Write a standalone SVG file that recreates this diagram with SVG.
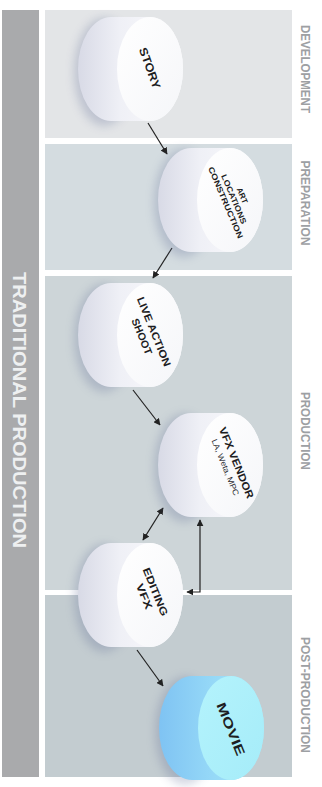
<svg xmlns="http://www.w3.org/2000/svg" width="322" height="787" viewBox="0 0 322 787">
<style>
.band{stroke:none}
.lbl{font-family:"Liberation Sans",Arial,sans-serif;font-weight:bold;font-size:13px;fill:#9da0a3;text-anchor:middle}
.title{font-family:"Liberation Sans",Arial,sans-serif;font-weight:bold;font-size:19px;fill:#eef0f1;text-anchor:middle}
.nt{font-family:"Liberation Sans",Arial,sans-serif;font-weight:bold;fill:#1d1d22;text-anchor:middle}
.sub{font-family:"Liberation Sans",Arial,sans-serif;font-weight:normal;fill:#2a2a30;text-anchor:middle}
.conn{fill:none;stroke:#222;stroke-width:1.2}
</style>
<defs>
<linearGradient id="bodyG" x1="0" y1="0" x2="1" y2="0">
<stop offset="0" stop-color="#d8dae6"/>
<stop offset="0.4" stop-color="#eff0f6"/>
<stop offset="1" stop-color="#fbfbfd"/>
</linearGradient>
<linearGradient id="faceG" x1="0" y1="0" x2="1" y2="1">
<stop offset="0" stop-color="#ffffff"/>
<stop offset="1" stop-color="#f5f6f9"/>
</linearGradient>
<linearGradient id="mBodyG" x1="0" y1="0" x2="1" y2="0">
<stop offset="0" stop-color="#7fc3f3"/>
<stop offset="0.5" stop-color="#95d8f7"/>
<stop offset="1" stop-color="#a8e8f9"/>
</linearGradient>
<linearGradient id="mFaceG" x1="0" y1="0" x2="1" y2="1">
<stop offset="0" stop-color="#b4f3fc"/>
<stop offset="1" stop-color="#a5ecf9"/>
</linearGradient>
<filter id="blur" x="-50%" y="-50%" width="200%" height="200%">
<feGaussianBlur stdDeviation="5"/>
</filter>
<g id="cyl">
<ellipse cx="-46" cy="3" rx="30" ry="54" fill="#56638f" opacity="0.26" filter="url(#blur)"/>
<path d="M-39,-52 H0 A33,52 0 0 1 0,52 H-39 A33,52 0 0 1 -39,-52 Z" fill="url(#bodyG)"/>
<ellipse cx="0" cy="0" rx="33" ry="52" fill="url(#faceG)"/>
</g>
<g id="mcyl">
<ellipse cx="-46" cy="3" rx="30" ry="54" fill="#56638f" opacity="0.26" filter="url(#blur)"/>
<path d="M-39,-52 H0 A33,52 0 0 1 0,52 H-39 A33,52 0 0 1 -39,-52 Z" fill="url(#mBodyG)"/>
<ellipse cx="0" cy="0" rx="33" ry="52" fill="url(#mFaceG)"/>
</g>
<marker id="ah" viewBox="0 0 10 10" refX="9" refY="5" markerWidth="7" markerHeight="7" markerUnits="userSpaceOnUse" orient="auto-start-reverse">
<path d="M0,0 L10,5 L0,10 Z" fill="#222"/>
</marker>
</defs>

<rect width="322" height="787" fill="#ffffff"/>

<g id="bands">
<rect class="band" x="2" y="10" width="37" height="767" fill="#a9aaac"/>
<rect class="band" x="45" y="10" width="247" height="128" fill="#e3e5e7"/>
<rect class="band" x="45" y="144" width="247" height="126" fill="#d4dce0"/>
<rect class="band" x="45" y="276" width="247" height="314" fill="#cdd5d8"/>
<rect class="band" x="45" y="595" width="247" height="182" fill="#c3ccd0"/>
</g>

<g id="labels">
<text class="title" transform="translate(20,410) rotate(90)" dy="0.36em" textLength="276" lengthAdjust="spacingAndGlyphs">TRADITIONAL PRODUCTION</text>
<text class="lbl" transform="translate(306,69) rotate(90)" dy="0.36em" textLength="88" lengthAdjust="spacingAndGlyphs">DEVELOPMENT</text>
<text class="lbl" transform="translate(306,203) rotate(90)" dy="0.36em" textLength="85" lengthAdjust="spacingAndGlyphs">PREPARATION</text>
<text class="lbl" transform="translate(306,431) rotate(90)" dy="0.36em" textLength="78" lengthAdjust="spacingAndGlyphs">PRODUCTION</text>
<text class="lbl" transform="translate(306,695) rotate(90)" dy="0.36em" textLength="116" lengthAdjust="spacingAndGlyphs">POST-PRODUCTION</text>
</g>

<g id="connectors">
<line class="conn" x1="148" y1="123" x2="167" y2="154" marker-end="url(#ah)"/>
<line class="conn" x1="172" y1="248" x2="153" y2="278" marker-end="url(#ah)"/>
<line class="conn" x1="133" y1="390" x2="160" y2="425" marker-end="url(#ah)"/>
<line class="conn" x1="163" y1="508" x2="143" y2="540" marker-start="url(#ah)" marker-end="url(#ah)"/>
<path class="conn" d="M187,592 H200 V520" marker-start="url(#ah)" marker-end="url(#ah)"/>
<line class="conn" x1="137" y1="650" x2="163" y2="686" marker-end="url(#ah)"/>
</g>

<g id="story">
<use href="#cyl" x="150" y="69"/>
<text class="nt" font-size="11.5" transform="translate(150,68) rotate(70)" dy="0.36em" textLength="43" lengthAdjust="spacingAndGlyphs">STORY</text>
</g>

<g id="art">
<use href="#cyl" x="230" y="200"/>
<g transform="translate(234,199) rotate(67)">
<text class="nt" font-size="8" y="-9" dy="0.36em">ART</text>
<text class="nt" font-size="8" y="0" dy="0.36em" textLength="53" lengthAdjust="spacingAndGlyphs">LOCATIONS</text>
<text class="nt" font-size="8" y="9" dy="0.36em" textLength="77" lengthAdjust="spacingAndGlyphs">CONSTRUCTION</text>
</g>
</g>

<g id="live">
<use href="#cyl" x="150" y="335"/>
<g transform="translate(148,334) rotate(68)">
<text class="nt" font-size="10.5" y="-6.5" dy="0.36em" textLength="74" lengthAdjust="spacingAndGlyphs">LIVE ACTION</text>
<text class="nt" font-size="10.5" y="6.5" dy="0.36em" textLength="38" lengthAdjust="spacingAndGlyphs">SHOOT</text>
</g>
</g>

<g id="vfx">
<use href="#cyl" x="230" y="465"/>
<g transform="translate(231,465) rotate(68)">
<text class="nt" font-size="10.5" y="-6" dy="0.36em" textLength="76" lengthAdjust="spacingAndGlyphs">VFX VENDOR</text>
<text class="sub" font-size="8" y="6" dy="0.36em" textLength="60" lengthAdjust="spacingAndGlyphs">LA, Weta, MPC</text>
</g>
</g>

<g id="editing">
<use href="#cyl" x="150" y="595"/>
<g transform="translate(150,594) rotate(68)">
<text class="nt" font-size="10.5" y="-6" dy="0.36em" textLength="51" lengthAdjust="spacingAndGlyphs">EDITING</text>
<text class="nt" font-size="10.5" y="6" dy="0.36em" textLength="27" lengthAdjust="spacingAndGlyphs">VFX</text>
</g>
</g>

<g id="movie">
<use href="#mcyl" x="231" y="728"/>
<text class="nt" font-size="13" transform="translate(231,729) rotate(68)" dy="0.36em" textLength="56" lengthAdjust="spacingAndGlyphs">MOVIE</text>
</g>
</svg>
